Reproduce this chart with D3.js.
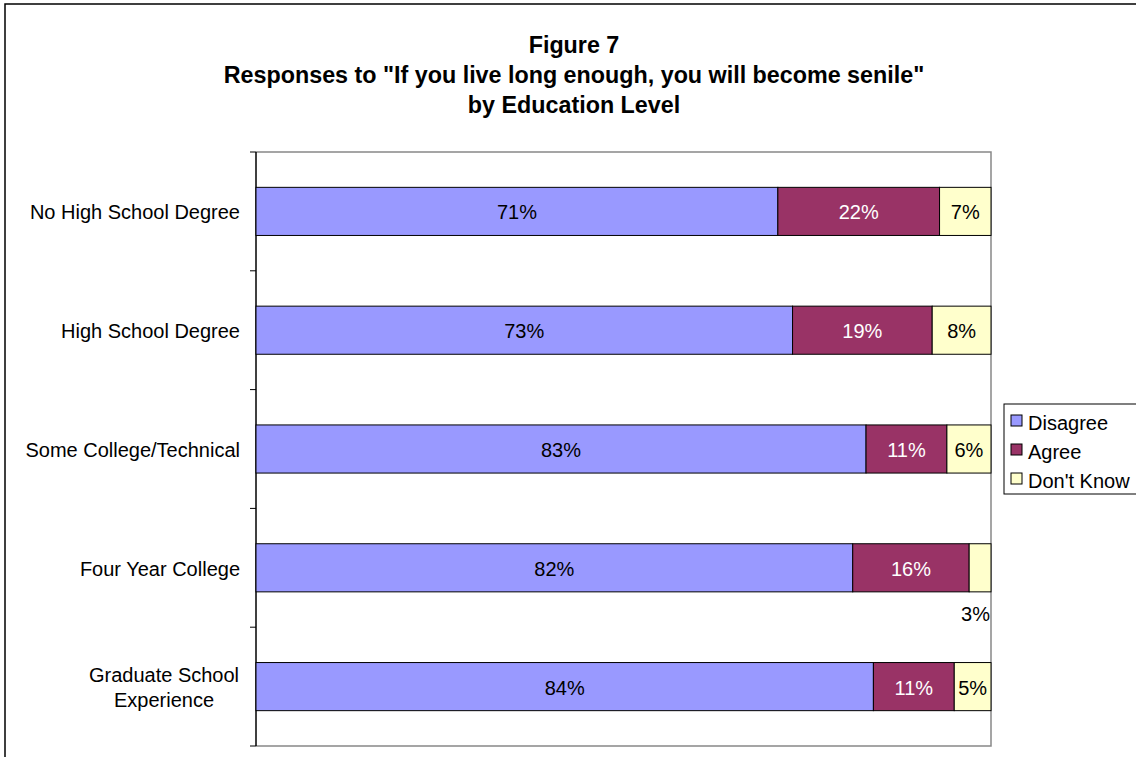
<!DOCTYPE html>
<html>
<head>
<meta charset="utf-8">
<script src="https://cdn.jsdelivr.net/npm/d3@7"></script>
<style>
  body { margin: 0; background: #fff; }
  svg { display: block; font-family: Arial, "Liberation Sans", sans-serif; }
</style>
</head>
<body>
<div id="chart"></div>
<script>
(function() {
	// chart data
	var categories = ["No High School Degree", "High School Degree", "Some College/Technical", "Four Year College", "Graduate School Experience"];
	var categoryLines = [["No High School Degree"], ["High School Degree"], ["Some College/Technical"], ["Four Year College"], ["Graduate School", "Experience"]];
	var seriesNames = ["Disagree", "Agree", "Don't Know"];
	var disagree = [71, 73, 83, 82, 84];
	var agree = [22, 19, 11, 16, 11];
	var dontKnow = [7, 8, 6, 3, 5];
	var titleLines = ["Figure 7", "Responses to \"If you live long enough, you will become senile\"", "by Education Level"];

	var colors = ["#9999FF", "#993366", "#FFFFCC"];
	var labelColors = ["#000", "#fff", "#000"];

	var W = 1136, H = 757;
	var plot = { left: 256, top: 152, right: 991, bottom: 746 };

	var svg = d3.select("#chart").append("svg")
				.attr("width", W)
				.attr("height", H);

	// outer chart border (runs off the right/bottom edge)
	svg.append("rect")
		.attr("x", 5).attr("y", 4)
		.attr("width", 1200).attr("height", 800)
		.attr("fill", "none")
		.attr("stroke", "#000")
		.attr("stroke-width", 1.5);

	// title
	svg.append("g").selectAll("text")
		.data(titleLines)
		.enter()
		.append("text")
		.attr("x", 574)
		.attr("y", function(d, i) { return 53 + i * 30; })
		.attr("text-anchor", "middle")
		.attr("font-size", "23.3px")
		.attr("font-weight", "bold")
		.text(function(d) { return d; });

	// build rows of normalised segments
	var rows = categories.map(function(c, i) {
		var vals = [disagree[i], agree[i], dontKnow[i]];
		var total = d3.sum(vals);
		var x0 = 0;
		return vals.map(function(v, j) {
			var seg = { cat: c, idx: i, series: j, value: v, x0: x0 / total, x1: (x0 + v) / total };
			x0 += v;
			return seg;
		});
	});

	var x = d3.scaleLinear().domain([0, 1]).range([plot.left, plot.right]);
	var y = d3.scaleBand().domain(categories).range([plot.top, plot.bottom]).paddingInner(0.595).paddingOuter(0.2975);

	// plot area border (grey top/right/bottom)
	svg.append("path")
		.attr("d", "M" + plot.left + "," + plot.top + "H" + plot.right + "V" + plot.bottom + "H" + plot.left)
		.attr("fill", "none")
		.attr("stroke", "#888")
		.attr("stroke-width", 1.5);

	// category axis with ticks between categories
	var boundaries = d3.range(categories.length + 1).map(function(i) {
		return plot.top + i * (plot.bottom - plot.top) / categories.length;
	});
	var axisG = svg.append("g");
	axisG.append("line")
		.attr("x1", plot.left).attr("x2", plot.left)
		.attr("y1", plot.top).attr("y2", plot.bottom)
		.attr("stroke", "#000").attr("stroke-width", 1.5);
	axisG.selectAll("line.tick")
		.data(boundaries)
		.enter()
		.append("line")
		.attr("class", "tick")
		.attr("x1", plot.left - 6).attr("x2", plot.left)
		.attr("y1", function(d) { return d; }).attr("y2", function(d) { return d; })
		.attr("stroke", "#000").attr("stroke-width", 1);

	// category labels
	var catLabels = svg.append("g").selectAll("text")
		.data(categories)
		.enter()
		.append("text")
		.attr("font-size", "20px")
		.attr("fill", "#000");
	catLabels.each(function(c, i) {
		var lines = categoryLines[i];
		var cy = y(c) + y.bandwidth() / 2;
		var el = d3.select(this);
		lines.forEach(function(l, k) {
			el.append("tspan")
				.attr("x", lines.length > 1 ? 164 : 240)
				.attr("y", cy + 8 + (k - (lines.length - 1) / 2) * 25)
				.text(l);
		});
		el.attr("text-anchor", lines.length > 1 ? "middle" : "end");
	});

	// bars
	var rowG = svg.append("g").selectAll("g")
		.data(rows)
		.enter()
		.append("g");

	rowG.selectAll("rect")
		.data(function(d) { return d; })
		.enter()
		.append("rect")
		.attr("x", function(d) { return x(d.x0); })
		.attr("y", function(d) { return y(d.cat); })
		.attr("width", function(d) { return x(d.x1) - x(d.x0); })
		.attr("height", y.bandwidth())
		.attr("fill", function(d) { return colors[d.series]; })
		.attr("stroke", "#000")
		.attr("stroke-width", 1);

	// value labels (placed below the bar when the segment is too narrow)
	rowG.selectAll("text")
		.data(function(d) { return d; })
		.enter()
		.append("text")
		.attr("font-size", "20px")
		.each(function(d) {
			var w = x(d.x1) - x(d.x0);
			var el = d3.select(this).text(d.value + "%");
			if (w < 30) {
				el.attr("x", x(d.x1) - 1)
					.attr("y", y(d.cat) + y.bandwidth() + 29)
					.attr("text-anchor", "end")
					.attr("fill", "#000");
			} else {
				el.attr("x", (x(d.x0) + x(d.x1)) / 2)
					.attr("y", y(d.cat) + y.bandwidth() / 2 + 8)
					.attr("text-anchor", "middle")
					.attr("fill", labelColors[d.series]);
			}
		});

	// legend
	var legend = svg.append("g").attr("transform", "translate(1004,404)");
	legend.append("rect")
		.attr("width", 140).attr("height", 90)
		.attr("fill", "#fff")
		.attr("stroke", "#000").attr("stroke-width", 1);
	var items = legend.selectAll("g")
		.data(seriesNames)
		.enter()
		.append("g")
		.attr("transform", function(d, i) { return "translate(0," + (19 + i * 29) + ")"; });
	items.append("rect")
		.attr("x", 7).attr("y", -8)
		.attr("width", 11).attr("height", 11)
		.attr("fill", function(d, i) { return colors[i]; })
		.attr("stroke", "#000").attr("stroke-width", 1);
	items.append("text")
		.attr("x", 24).attr("y", 7)
		.attr("font-size", "20px")
		.text(function(d) { return d; });
})();
</script>
</body>
</html>
